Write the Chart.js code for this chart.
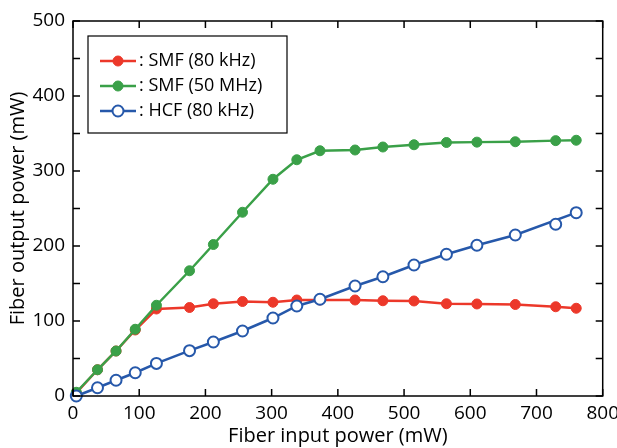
<!DOCTYPE html>
<html>
<head>
<meta charset="utf-8">
<script src="https://cdn.jsdelivr.net/npm/chart.js@4.4.1/dist/chart.umd.min.js"></script>
<style>
  html, body { margin: 0; padding: 0; background: #fff; }
  #wrap { width: 617px; height: 448px; }
</style>
</head>
<body>
<div id="wrap"><canvas id="chart" width="617" height="448"></canvas></div>
<script>
// input power (mW), shared by all three series
const inputPower = [5, 37, 65, 94, 126, 176, 212, 256, 302, 338, 373, 426, 468, 515, 564, 610, 668, 729, 760];
const smf80k  = [4, 35, 60, 88, 116, 118, 123, 126, 125, 128, 128, 128, 127, 126.7, 123, 122.7, 122, 119, 117];
const smf50M  = [5, 35, 60, 89, 121, 167, 202, 245, 289, 315, 327, 328, 332, 335, 338, 338.5, 339, 340.5, 341];
const hcf80k  = [0, 11, 21, 31, 43.5, 60.5, 72, 86.7, 104, 120, 129, 146.7, 159, 174.7, 189, 201, 214.7, 229, 244.4];
// the HCF line in the figure skips the 729 mW point
const hcfTrace = [0, 11, 21, 31, 43.5, 60.5, 72, 86.7, 104, 120, 129, 146.7, 159, 174.7, 189, 201, 214.7, null, 244.4];
const seriesNames = [': SMF (80 kHz)', ': SMF (50 MHz)', ': HCF (80 kHz)'];
const xTicks = [0, 100, 200, 300, 400, 500, 600, 700, 800];
const yTicks = [0, 100, 200, 300, 400, 500];

const RED = 'rgb(236,56,42)';
const GREEN = 'rgb(58,160,72)';
const BLUE = 'rgb(38,88,170)';
const FONT = '"Open Sans", sans-serif';

const toPoints = (ys) => ys.map((y, i) => ({ x: inputPower[i], y: y }));

const legendStyles = [
    { line: RED, fill: RED, stroke: RED, r: 5, w: 1 },
    { line: GREEN, fill: GREEN, stroke: GREEN, r: 5, w: 1 },
    { line: BLUE, fill: '#fff', stroke: BLUE, r: 5.5, w: 2 }
];

// tick marks pointing inward on all four sides of the frame
const innerTicks = {
    id: 'innerTicks',
    afterDraw(chart) {
        const ctx = chart.ctx;
        const a = chart.chartArea;
        const xs = chart.scales.x, ys = chart.scales.y;
        const len = 7;
        ctx.save();
        ctx.strokeStyle = '#000';
        ctx.lineWidth = 1.5;
        ctx.beginPath();
        xTicks.forEach(v => {
            const px = xs.getPixelForValue(v);
            ctx.moveTo(px, a.bottom); ctx.lineTo(px, a.bottom - len);
            ctx.moveTo(px, a.top); ctx.lineTo(px, a.top + len);
        });
        for (let v = 0; v <= 500; v += 50) {
            const py = ys.getPixelForValue(v);
            ctx.moveTo(a.left, py); ctx.lineTo(a.left + len, py);
            ctx.moveTo(a.right, py); ctx.lineTo(a.right - len, py);
        }
        ctx.stroke();
        ctx.strokeRect(a.left, a.top, a.right - a.left, a.bottom - a.top);
        ctx.restore();
    }
};

// boxed legend inside the plot, top left
const boxLegend = {
    id: 'boxLegend',
    afterDraw(chart) {
        const ctx = chart.ctx;
        const a = chart.chartArea;
        const bx = a.left + 15, by = a.top + 15, bw = 199, bh = 97;
        ctx.save();
        ctx.fillStyle = '#fff';
        ctx.fillRect(bx, by, bw, bh);
        ctx.strokeStyle = '#000';
        ctx.lineWidth = 1.2;
        ctx.strokeRect(bx, by, bw, bh);
        ctx.font = '18px ' + FONT;
        ctx.textBaseline = 'middle';
        ctx.textAlign = 'left';
        const rows = [25, 50, 75];
        legendStyles.forEach((st, i) => {
            const yy = by + rows[i];
            ctx.strokeStyle = st.line;
            ctx.lineWidth = 2.5;
            ctx.beginPath();
            ctx.moveTo(bx + 12, yy); ctx.lineTo(bx + 48, yy);
            ctx.stroke();
            ctx.beginPath();
            ctx.arc(bx + 30, yy, st.r, 0, Math.PI * 2);
            ctx.fillStyle = st.fill;
            ctx.fill();
            ctx.lineWidth = st.w;
            ctx.strokeStyle = st.stroke;
            ctx.stroke();
            ctx.fillStyle = '#000';
            ctx.fillText(seriesNames[i], bx + 51, yy);
        });
        ctx.restore();
    }
};

new Chart(document.getElementById('chart'), {
    type: 'line',
    data: {
        datasets: [
            {
                label: seriesNames[0],
                data: toPoints(smf80k),
                borderColor: RED,
                backgroundColor: RED,
                pointBackgroundColor: RED,
                pointBorderColor: RED,
                pointBorderWidth: 1,
                pointRadius: 5,
                borderWidth: 2.5,
                clip: false,
                order: 4
            },
            {
                label: seriesNames[1],
                data: toPoints(smf50M),
                borderColor: GREEN,
                backgroundColor: GREEN,
                pointBackgroundColor: GREEN,
                pointBorderColor: GREEN,
                pointBorderWidth: 1,
                pointRadius: 5,
                borderWidth: 2.5,
                clip: false,
                order: 3
            },
            {
                label: 'HCF line',
                data: toPoints(hcfTrace),
                borderColor: BLUE,
                pointRadius: 0,
                borderWidth: 2.5,
                spanGaps: true,
                clip: false,
                order: 2
            },
            {
                label: seriesNames[2],
                data: toPoints(hcf80k),
                showLine: false,
                borderColor: BLUE,
                backgroundColor: '#fff',
                pointBackgroundColor: '#fff',
                pointBorderColor: BLUE,
                pointBorderWidth: 2,
                pointRadius: 5.5,
                clip: false,
                order: 1
            }
        ]
    },
    options: {
        responsive: false,
        animation: false,
        layout: { padding: { left: 0, right: 14, top: 21, bottom: 0 } },
        plugins: {
            legend: { display: false },
            tooltip: { enabled: false }
        },
        scales: {
            x: {
                type: 'linear',
                min: 0,
                max: 800,
                afterFit: (s) => { s.height = 52; },
                afterBuildTicks: (s) => { s.ticks = xTicks.map(v => ({ value: v })); },
                grid: { display: false },
                border: { display: false },
                ticks: { color: '#000', font: { family: FONT, size: 19 }, padding: -2, maxRotation: 0 },
                title: {
                    display: true,
                    text: 'Fiber input power (mW)',
                    color: '#000',
                    font: { family: FONT, size: 20 },
                    padding: { top: -4, bottom: 0 }
                }
            },
            y: {
                min: 0,
                max: 500,
                afterFit: (s) => { s.width = 73; },
                afterBuildTicks: (s) => { s.ticks = yTicks.map(v => ({ value: v })); },
                grid: { display: false },
                border: { display: false },
                ticks: { color: '#000', font: { family: FONT, size: 19 }, padding: 0 },
                title: {
                    display: true,
                    text: 'Fiber output power (mW)',
                    color: '#000',
                    font: { family: FONT, size: 20 },
                    padding: { top: 6, bottom: 0 }
                }
            }
        }
    },
    plugins: [innerTicks, boxLegend]
});
</script>
</body>
</html>
